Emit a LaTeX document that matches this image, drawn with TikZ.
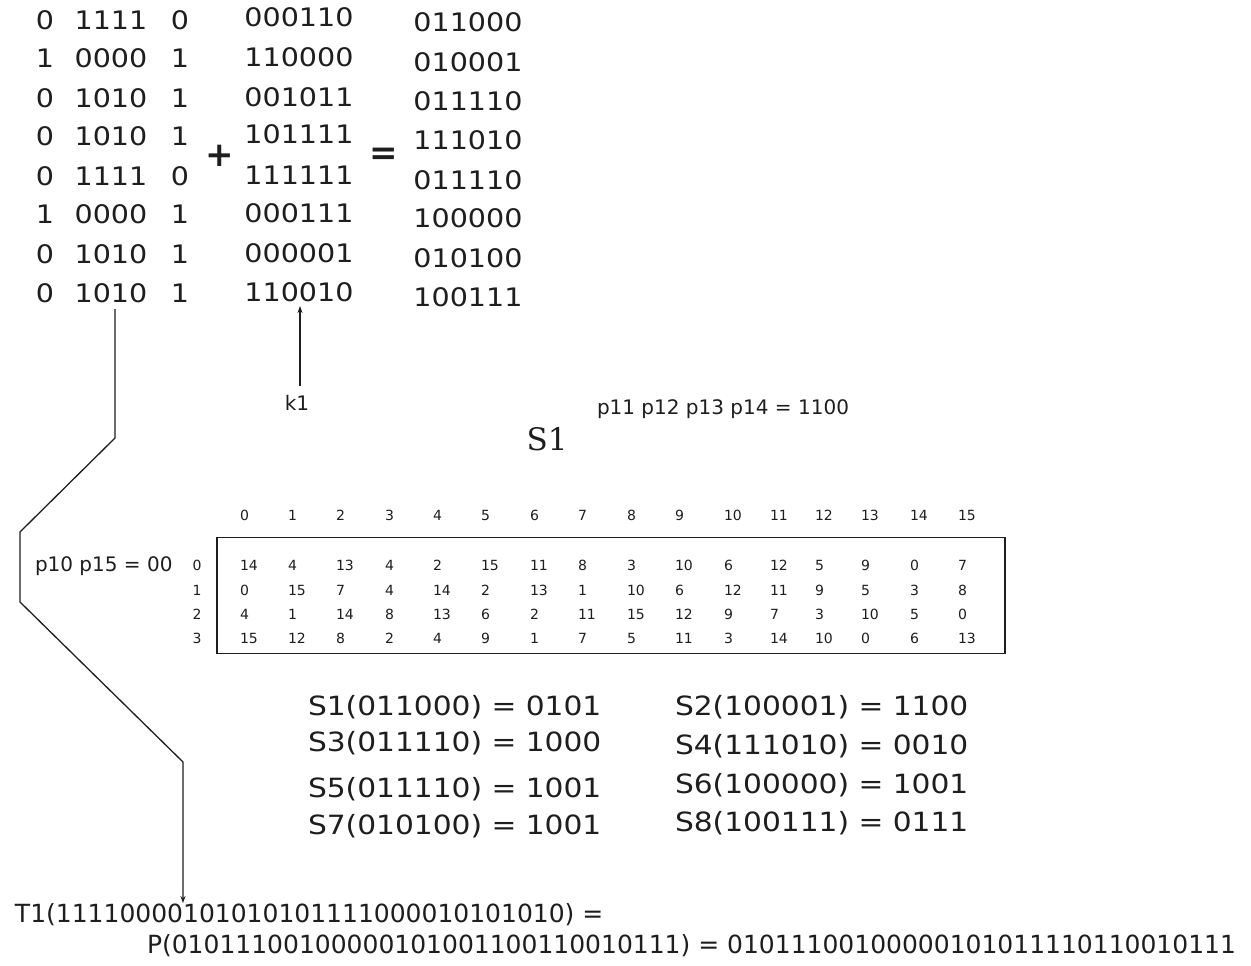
\documentclass[tikz,border=0pt]{standalone}
\usepackage{fontspec}
\setmainfont{DejaVu Sans}
\newfontfamily\widefont[FakeStretch=1.12]{DejaVu Sans}
\newfontfamily\serifS{DejaVu Serif}
\usetikzlibrary{arrows.meta}
\definecolor{ink}{HTML}{1E1E1E}
\begin{document}
\begin{tikzpicture}[x=1pt,y=-1pt,
  every node/.style={inner sep=0pt,outer sep=0pt,text=ink},
  bits/.style={font=\widefont\fontsize{25.5}{28}\selectfont},
  opsym/.style={font=\bfseries\fontsize{34}{36}\selectfont},
  eqn/.style={font=\widefont\fontsize{26.5}{28}\selectfont,anchor=west},
  note/.style={font=\fontsize{20}{22}\selectfont},
  tab/.style={font=\fontsize{14}{16}\selectfont,anchor=west},
  tline/.style={font=\fontsize{25}{27}\selectfont,anchor=west},
  conn/.style={line width=1.3pt,draw=ink},
  arr/.style={conn,-{Stealth[length=7pt,width=5pt]}}]
\useasboundingbox (0,0) rectangle (1251,966);
\fill[white] (0,0) rectangle (1251,966);
% left block
\foreach \a/\b/\c/\y [count=\i] in {0/1111/0/20,1/0000/1/58,0/1010/1/98,0/1010/1/136,0/1111/0/176,1/0000/1/214,0/1010/1/254,0/1010/1/293}{
  \node[bits] (a\i) at (45,\y) {\a};
  \node[bits] (b\i) at (111,\y) {\b};
  \node[bits] (c\i) at (180,\y) {\c};
}
% key column
\foreach \k/\y [count=\i] in {000110/17,110000/57,001011/97,101111/134,111111/175,000111/213,000001/253,110010/292}{
  \node[bits] (k\i) at (299,\y) {\k};
}
% result column
\foreach \r/\y [count=\i] in {011000/22,010001/62,011110/101,111010/140,011110/180,100000/218,010100/258,100111/297}{
  \node[bits] (r\i) at (468,\y) {\r};
}
\node[opsym] (plus) at (220,156) {+};
\node[opsym] (eq) at (384,156) {=};
% k1 arrow
\node[note] (klab) at (297,403) {k1};
\coordinate (kfrom) at (300,386);
\coordinate (kto) at (300,306);
\draw[arr] (kfrom) -- (kto);
% S1 labels
\node[font=\serifS\fontsize{31}{33}\selectfont] (s1) at (547,439) {S1};
\node[note,anchor=west] (pmid) at (597,409) {p11 p12 p13 p14 = 1100};
\node[note,anchor=west] (pout) at (35,566) {p10 p15 = 00};
% table
\node[draw=ink,line width=1.3pt,minimum width=788pt,minimum height=116pt] (box) at (611,595.5) {};
\def\colx{{240,288,336,385,433,481,530,578,627,675,724,770,815,861,910,958}}
\foreach \h [count=\j from 0] in {0,1,...,15}{
  \pgfmathsetmacro{\xx}{\colx[\j]}
  \node[tab] (h\j) at (\xx,515) {\h};
}
\foreach \rl/\y in {0/565,1/590,2/614,3/638}{
  \node[font=\fontsize{14}{16}\selectfont] (rl\rl) at (197,\y) {\rl};
}
\foreach \row/\y in {0/565,1/590,2/614,3/638}{
  \ifcase\row
    \def\vals{14,4,13,4,2,15,11,8,3,10,6,12,5,9,0,7}\or
    \def\vals{0,15,7,4,14,2,13,1,10,6,12,11,9,5,3,8}\or
    \def\vals{4,1,14,8,13,6,2,11,15,12,9,7,3,10,5,0}\or
    \def\vals{15,12,8,2,4,9,1,7,5,11,3,14,10,0,6,13}\fi
  \foreach \v [count=\j from 0] in \vals{
    \pgfmathsetmacro{\xx}{\colx[\j]}
    \node[tab] (t\row-\j) at (\xx,\y) {\v};
  }
}
% S-box results
\node[eqn] (e1) at (308,707) {S1(011000) = 0101};
\node[eqn] (e3) at (308,743) {S3(011110) = 1000};
\node[eqn] (e5) at (308,789) {S5(011110) = 1001};
\node[eqn] (e7) at (308,826) {S7(010100) = 1001};
\node[eqn] (e2) at (675,707) {S2(100001) = 1100};
\node[eqn] (e4) at (675,746) {S4(111010) = 0010};
\node[eqn] (e6) at (675,785) {S6(100000) = 1001};
\node[eqn] (e8) at (675,823) {S8(100111) = 0111};
% T1 lines
\node[tline] (t1) at (15,915) {T1(11110000101010101111000010101010) =};
\node[tline] (pl) at (147,946) {P(01011100100000101001100110010111) = 01011100100000101011110110010111};
% polyline
\coordinate (p0) at (115,309);
\coordinate (p1) at (115,438);
\coordinate (p2) at (20,532);
\coordinate (p3) at (20,602);
\coordinate (p4) at (183,762);
\coordinate (p5) at (183,903);
\draw[arr] (p0) -- (p1) -- (p2) -- (p3) -- (p4) -- (p5);
\end{tikzpicture}
\end{document}
